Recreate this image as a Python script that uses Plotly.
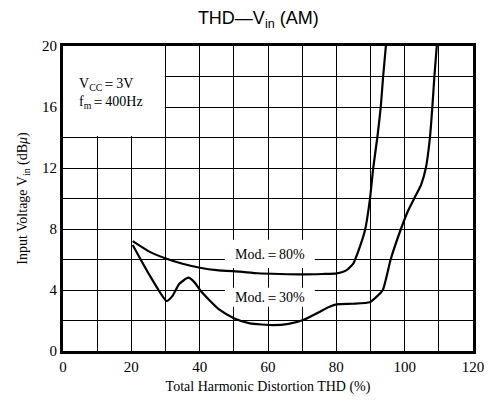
import plotly.graph_objects as go

# Mod. = 80% curve
thd_80 = [20.4, 25, 29.9, 35, 40.1, 45, 51.8, 57, 63.5, 70, 76, 80.1, 83, 85.0, 86.9, 88.4, 89.8, 90.8, 92.0, 93.0, 93.7, 94.5]
vin_80 = [7.2, 6.55, 6.08, 5.72, 5.46, 5.3, 5.2, 5.1, 5.05, 5.02, 5.05, 5.09, 5.3, 5.75, 6.84, 7.93, 9.9, 12.0, 14.0, 16.0, 18.0, 20.0]

# Mod. = 30% curve
thd_30 = [20.4, 25, 30.3, 32, 34, 36.7, 38.5, 40.1, 43, 45.9, 50, 54.7, 61.5, 66, 70.3, 75.2, 78, 80.1, 85, 89.8, 91.5, 93.6, 95.9, 98.9, 101.0, 103.0, 104.8, 106.2, 107.4, 108.1, 108.7, 109.4]
vin_30 = [6.95, 5.1, 3.28, 3.6, 4.4, 4.81, 4.5, 4.0, 3.3, 2.69, 2.15, 1.81, 1.70, 1.78, 2.03, 2.58, 2.9, 3.06, 3.1, 3.2, 3.5, 4.0, 6.0, 8.0, 9.2, 10.1, 10.9, 12.0, 14.0, 16.0, 18.0, 20.0]

x_ticks = [0, 20, 40, 60, 80, 100, 120]
y_ticks = [0, 4, 8, 12, 16, 20]

serif = "Liberation Serif, Times New Roman, serif"

fig = go.Figure()
fig.add_trace(go.Scatter(x=thd_80, y=vin_80, mode="lines", line=dict(color="black", width=2.2, shape="spline", smoothing=0.5), showlegend=False))
fig.add_trace(go.Scatter(x=thd_30, y=vin_30, mode="lines", line=dict(color="black", width=2.2, shape="spline", smoothing=0.5), showlegend=False))

shapes = [
    dict(type="rect", xref="x", yref="y", x0=0, x1=29.8, y0=14.1, y1=20, fillcolor="white", line=dict(width=0), layer="between"),
    dict(type="rect", xref="x", yref="y", x0=47.4, x1=73.7, y0=5.45, y1=7.3, fillcolor="white", line=dict(width=0), layer="between"),
    dict(type="rect", xref="x", yref="y", x0=47.4, x1=73.7, y0=2.9, y1=4.15, fillcolor="white", line=dict(width=0), layer="between"),
]

annotations = [
    dict(x=60.6, y=6.35, xref="x", yref="y", text="Mod.＝80%", showarrow=False, font=dict(family=serif, size=14, color="black")),
    dict(x=60.6, y=3.5, xref="x", yref="y", text="Mod.＝30%", showarrow=False, font=dict(family=serif, size=14, color="black")),
    dict(x=4.0, y=17.5, xref="x", yref="y", text="V<sub>CC</sub>＝3V", showarrow=False, xanchor="left", font=dict(family=serif, size=14, color="black")),
    dict(x=4.0, y=16.3, xref="x", yref="y", text="f<sub>m</sub>＝400Hz", showarrow=False, xanchor="left", font=dict(family=serif, size=14, color="black")),
]

fig.update_layout(
    width=486, height=394,
    margin=dict(l=55, r=21, t=38, b=51, autoexpand=False),
    paper_bgcolor="white", plot_bgcolor="white",
    title=dict(text="THD—V<sub>in</sub> (AM)", x=0.515, xanchor="center", y=0.975, yanchor="middle",
               font=dict(family="Liberation Sans, Arial, sans-serif", size=18, color="black")),
    shapes=shapes, annotations=annotations,
    xaxis=dict(range=[0, 120], tickvals=x_ticks, ticks="", showgrid=True, gridcolor="black", gridwidth=1,
               minor=dict(dtick=10, showgrid=True, gridcolor="black", gridwidth=1),
               showline=True, linecolor="black", linewidth=3, mirror=True, zeroline=False, automargin=False,
               tickfont=dict(family=serif, size=15, color="black"),
               title=dict(text="Total Harmonic Distortion THD (%)", font=dict(family=serif, size=14, color="black"), standoff=8)),
    yaxis=dict(range=[0, 20], tickvals=y_ticks, ticks="", showgrid=True, gridcolor="black", gridwidth=1,
               minor=dict(dtick=2, showgrid=True, gridcolor="black", gridwidth=1),
               showline=True, linecolor="black", linewidth=3, mirror=True, zeroline=False, automargin=False,
               tickfont=dict(family=serif, size=15, color="black"),
               title=dict(text="Input Voltage V<sub>in</sub> (dB<i>μ</i>)", font=dict(family=serif, size=14, color="black"), standoff=12)),
)

fig.write_html("out.html")
